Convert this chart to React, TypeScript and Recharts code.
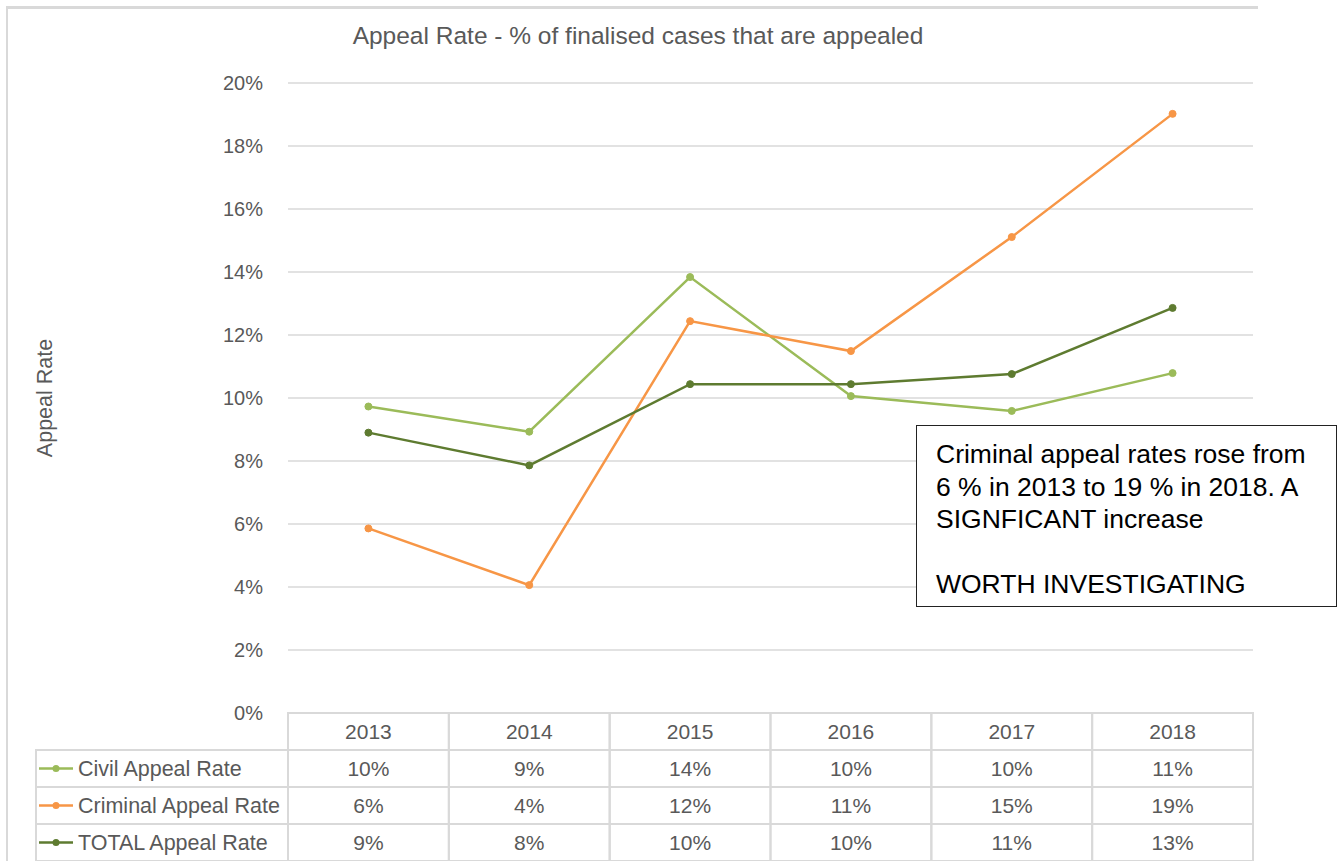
import React from 'react';
import { LineChart, Line, XAxis, YAxis, CartesianGrid, Legend } from 'recharts';

// appeal rates in %
const years = ['2013', '2014', '2015', '2016', '2017', '2018'];
const civilRate = [9.73, 8.93, 13.84, 10.06, 9.59, 10.79];
const criminalRate = [5.86, 4.06, 12.44, 11.49, 15.11, 19.02];
const totalRate = [8.9, 7.86, 10.44, 10.44, 10.76, 12.86];
const yTicks = [0, 2, 4, 6, 8, 10, 12, 14, 16, 18, 20];

const series = [
  { key: 'civil', name: 'Civil Appeal Rate', color: '#9BBB59' },
  { key: 'criminal', name: 'Criminal Appeal Rate', color: '#F79646' },
  { key: 'total', name: 'TOTAL Appeal Rate', color: '#5E7B30' },
];

const data = years.map((year, i) => ({
  year,
  civil: civilRate[i],
  criminal: criminalRate[i],
  total: totalRate[i],
}));

const W = 1344;
const H = 861;
const PLOT_LEFT = 288;
const PLOT_RIGHT = 1253;
const PLOT_TOP = 83;
const PLOT_BOTTOM = 713;
const Y_AXIS_W = 60;
const COL_HALF = (PLOT_RIGHT - PLOT_LEFT) / years.length / 2;
const ROW_H = 37;
const GRID = '#d9d9d9';
const TEXT = '#595959';
const FONT = '"Liberation Sans", Arial, sans-serif';

// data table under the plot, one column per category tick
const TableTick = (props: any) => {
  const { x, y, payload } = props;
  const i = years.indexOf(String(payload.value));
  const cells = [years[i], ...series.map((s) => `${Math.round((data[i] as any)[s.key])}%`)];
  return (
    <g>
      {cells.map((txt, r) => (
        <g key={r}>
          <rect
            x={x - COL_HALF}
            y={y + r * ROW_H}
            width={COL_HALF * 2}
            height={ROW_H}
            fill="none"
            stroke={GRID}
            strokeWidth={2}
          />
          <text
            x={x}
            y={y + r * ROW_H + ROW_H / 2}
            dy="0.36em"
            textAnchor="middle"
            fill={TEXT}
            fontSize={21}
            fontFamily={FONT}
          >
            {txt}
          </text>
        </g>
      ))}
    </g>
  );
};

// left column of the data table holds the legend keys
const LegendColumn = (props: any) => {
  const { payload = [] } = props;
  const w = PLOT_LEFT - 36;
  return (
    <svg width={w + 2} height={ROW_H * 3 + 2} style={{ display: 'block' }}>
      {payload.map((entry: any, r: number) => {
        const cy = 1 + r * ROW_H + ROW_H / 2;
        return (
          <g key={entry.value}>
            <rect x={1} y={1 + r * ROW_H} width={w} height={ROW_H} fill="none" stroke={GRID} strokeWidth={2} />
            <line x1={4} x2={38} y1={cy} y2={cy} stroke={entry.color} strokeWidth={2.5} />
            <circle cx={21} cy={cy} r={3.5} fill={entry.color} />
            <text x={43} y={cy} dy="0.36em" fill={TEXT} fontSize={21.5} fontFamily={FONT}>
              {entry.value}
            </text>
          </g>
        );
      })}
    </svg>
  );
};

const App = () => {
  return (
    <div style={{ position: 'absolute', left: 0, top: 0, width: W, height: H, background: '#fff', overflow: 'hidden' }}>
      <div
        style={{
          position: 'absolute',
          left: 6,
          top: 6,
          width: 1250,
          height: H,
          borderTop: `3px solid ${GRID}`,
          borderLeft: `2px solid ${GRID}`,
        }}
      />
      <div
        style={{
          position: 'absolute',
          left: 0,
          top: 22,
          width: 1276,
          textAlign: 'center',
          fontFamily: FONT,
          fontSize: 24.5,
          color: TEXT,
        }}
      >
        Appeal Rate - % of finalised cases that are appealed
      </div>
      <LineChart
        width={W}
        height={H}
        data={data}
        margin={{ top: PLOT_TOP, right: W - PLOT_RIGHT, bottom: 0, left: PLOT_LEFT - Y_AXIS_W }}
        style={{ position: 'absolute', left: 0, top: 0 }}
      >
        <CartesianGrid vertical={false} stroke={GRID} strokeWidth={1.5} />
        <XAxis
          dataKey="year"
          height={H - PLOT_BOTTOM}
          padding={{ left: COL_HALF, right: COL_HALF }}
          axisLine={false}
          tickLine={false}
          tickSize={0}
          tickMargin={0}
          interval={0}
          tick={<TableTick />}
        />
        <YAxis
          width={Y_AXIS_W}
          domain={[0, 20]}
          ticks={yTicks}
          axisLine={false}
          tickLine={false}
          tickSize={0}
          tickMargin={25}
          tickFormatter={(v: number) => `${v}%`}
          tick={{ fill: TEXT, fontSize: 20, fontFamily: FONT }}
          label={({ viewBox }: any) => (
            <text
              x={44}
              y={viewBox.y + viewBox.height / 2}
              transform={`rotate(-90, 44, ${viewBox.y + viewBox.height / 2})`}
              textAnchor="middle"
              dy="0.36em"
              fill={TEXT}
              fontSize={21.5}
              fontFamily={FONT}
            >
              Appeal Rate
            </text>
          )}
        />
        <Legend
          layout="vertical"
          align="center"
          verticalAlign="middle"
          wrapperStyle={{ position: 'absolute', left: 35, top: PLOT_BOTTOM + ROW_H - 1, width: PLOT_LEFT - 34 }}
          content={<LegendColumn />}
        />
        {series.map((s) => (
          <Line
            key={s.key}
            type="linear"
            dataKey={s.key}
            name={s.name}
            stroke={s.color}
            strokeWidth={2.5}
            dot={{ r: 3.5, fill: s.color, stroke: s.color, strokeWidth: 1 }}
            activeDot={false}
            isAnimationActive={false}
          />
        ))}
      </LineChart>
      <div
        style={{
          position: 'absolute',
          left: 916,
          top: 425,
          width: 421,
          height: 182,
          boxSizing: 'border-box',
          border: '1.5px solid #222',
          background: '#fff',
          padding: '12px 0 0 19px',
          fontFamily: FONT,
          fontSize: 26.5,
          lineHeight: '32.5px',
          color: '#000',
        }}
      >
        Criminal appeal rates rose from
        <br />6 % in 2013 to 19 % in 2018. A
        <br />SIGNFICANT increase
        <br />
        <br />WORTH INVESTIGATING
      </div>
    </div>
  );
};

export default App;
